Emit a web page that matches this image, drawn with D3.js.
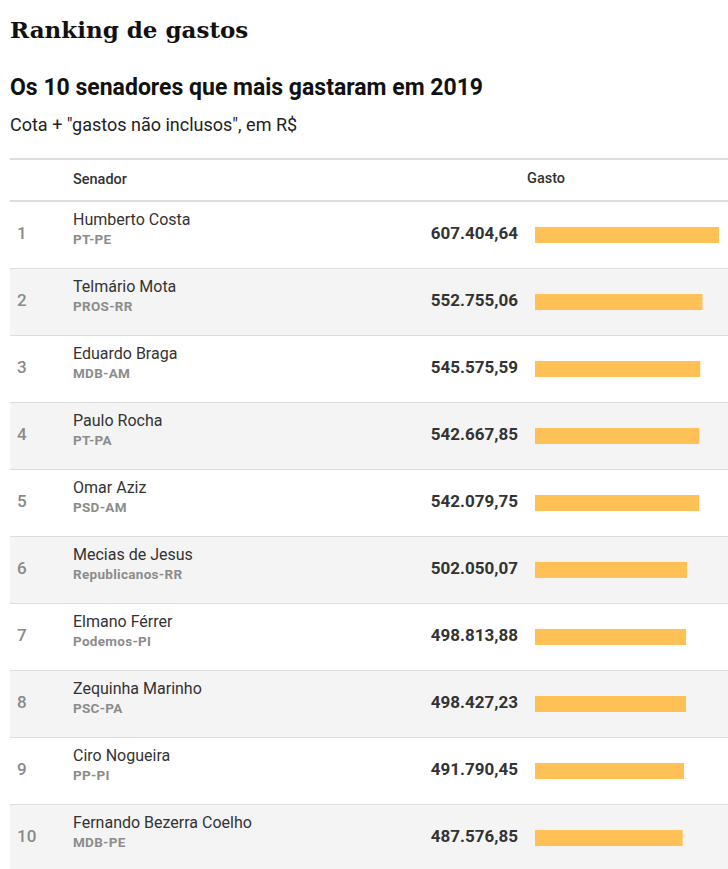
<!DOCTYPE html>
<html><head><meta charset="utf-8">
<script src="https://cdn.jsdelivr.net/npm/d3@7"></script>
<style>
html,body{margin:0;padding:0;background:#fff;overflow:hidden}
svg{display:block}
</style></head>
<body>
<script>
const ranks = [1,2,3,4,5,6,7,8,9,10];
const senators = ["Humberto Costa","Telmário Mota","Eduardo Braga","Paulo Rocha","Omar Aziz","Mecias de Jesus","Elmano Férrer","Zequinha Marinho","Ciro Nogueira","Fernando Bezerra Coelho"];
const parties = ["PT-PE","PROS-RR","MDB-AM","PT-PA","PSD-AM","Republicanos-RR","Podemos-PI","PSC-PA","PP-PI","MDB-PE"];
const spending = [607404.64,552755.06,545575.59,542667.85,542079.75,502050.07,498813.88,498427.23,491790.45,487576.85];
const title = "Ranking de gastos";
const subtitle = "Os 10 senadores que mais gastaram em 2019";
const note = "Cota + \"gastos não inclusos\", em R$";
const headers = ["Senador","Gasto"];

const W = 728, H = 869;
const svg = d3.select("body").append("svg").attr("width",W).attr("height",H);
const sans = "Roboto, 'Noto Sans', sans-serif";

svg.append("text").attr("x",10).attr("y",38).text(title)
  .attr("font-family","'DejaVu Serif', serif").attr("font-size",23).attr("font-weight","bold").attr("fill","#111");
svg.append("text").attr("x",10).attr("y",95).text(subtitle)
  .attr("font-family",sans).attr("font-size",23).attr("font-weight","bold").attr("fill","#111");
svg.append("text").attr("x",10).attr("y",131).text(note)
  .attr("font-family",sans).attr("font-size",18).attr("fill","#222");

// header
svg.append("rect").attr("x",10).attr("y",158).attr("width",W-10).attr("height",2).attr("fill","#dedede");
svg.append("text").attr("x",73).attr("y",184).text(headers[0])
  .attr("font-family",sans).attr("font-size",14.5).attr("font-weight","500").attr("fill","#333");
svg.append("text").attr("x",527).attr("y",183).text(headers[1])
  .attr("font-family",sans).attr("font-size",14.5).attr("font-weight","500").attr("fill","#333");

const rows = ranks.map((r,i)=>({rank:r,name:senators[i],party:parties[i],value:spending[i]}));
const y = d3.scaleBand().domain(ranks).range([201, 201+67*ranks.length]).paddingInner(0);
const x = d3.scaleLinear().domain([0, d3.max(spending)]).range([0, 184]);
const fmt = d3.formatLocale({decimal:",",thousands:".",grouping:[3],currency:["R$",""]}).format(",.2f");

const g = svg.selectAll("g.row").data(rows).join("g").attr("class","row")
  .attr("transform",d=>`translate(0,${y(d.rank)})`);
g.append("rect").attr("x",10).attr("y",0).attr("width",W-10).attr("height",y.bandwidth())
  .attr("fill",(d,i)=> i%2===1 ? "#f4f4f4" : "#fff");
g.filter((d,i)=>i>0).append("rect").attr("x",10).attr("y",0).attr("width",W-10).attr("height",1).attr("fill","#dcdcdc");
g.append("text").attr("x",17).attr("y",38).text(d=>d.rank)
  .attr("font-family",sans).attr("font-size",17).attr("font-weight","500").attr("fill","#8a8a8a");
g.append("text").attr("x",73).attr("y",24).text(d=>d.name)
  .attr("font-family",sans).attr("font-size",16).attr("fill","#333");
g.append("text").attr("x",73).attr("y",43).text(d=>d.party)
  .attr("font-family",sans).attr("font-size",13.5).attr("font-weight","bold").attr("letter-spacing",0.3).attr("fill","#8c8c8c");
g.append("text").attr("x",518).attr("y",38).attr("text-anchor","end").text(d=>fmt(d.value))
  .attr("font-family",sans).attr("font-size",17).attr("font-weight","bold").attr("fill","#333");
g.append("rect").attr("x",535).attr("y",26).attr("height",16).attr("width",d=>x(d.value)).attr("fill","#ffc156");
// header bottom line on top
svg.append("rect").attr("x",10).attr("y",200).attr("width",W-10).attr("height",2).attr("fill","#dedede");
</script>
</body></html>
